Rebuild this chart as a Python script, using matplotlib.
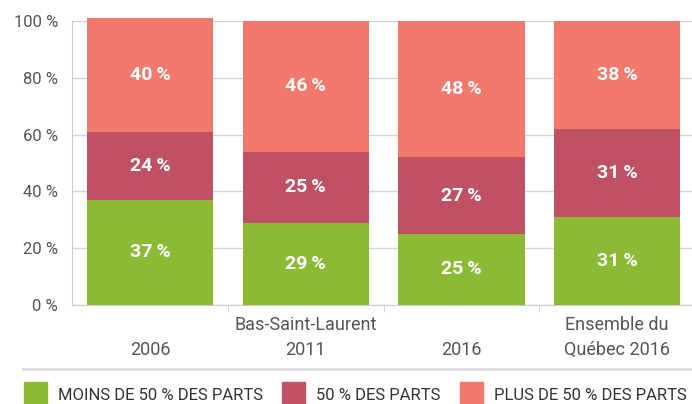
import matplotlib.pyplot as plt
from matplotlib.patches import Rectangle
from matplotlib.lines import Line2D
import numpy as np

categories = ['2006', 'Bas-Saint-Laurent\n2011', '2016', 'Ensemble du\nQuébec 2016']
moins = [37, 29, 25, 31]
egal = [24, 25, 27, 31]
plus = [40, 46, 48, 38]
series_names = ['MOINS DE 50 % DES PARTS', '50 % DES PARTS', 'PLUS DE 50 % DES PARTS']
colors = ['#8bba35', '#c05165', '#f2796b']
yticks = [0, 20, 40, 60, 80, 100]

plt.rcParams['font.family'] = ['Roboto', 'DejaVu Sans']

fig = plt.figure(figsize=(6.92, 4.04), dpi=100)
ax = fig.add_axes([72 / 692, 1 - 305 / 404, 620 / 692, 284 / 404])

x = np.arange(len(categories))
width = 0.81
bottom = np.zeros(len(categories))
for vals, col in zip([moins, egal, plus], colors):
    bars = ax.bar(x, vals, width, bottom=bottom, color=col, zorder=2)
    for b in bars:
        b.set_clip_on(False)
    for xi, b, v in zip(x, bottom, vals):
        ax.text(xi, b + v / 2, f'{v}\u2009%', ha='center', va='center', color='white',
                fontsize=14, fontweight='bold', zorder=3)
    bottom += vals

ax.set_xlim(-0.5, 3.48)
ax.set_ylim(0, 100)
ax.set_yticks(yticks)
ax.set_yticklabels([f'{t} %' for t in yticks], fontsize=12, color='#555555')
ax.yaxis.grid(True, color='#d5d5d5', linewidth=1, zorder=0)
ax.tick_params(axis='y', length=0, pad=10)

ax.set_xticks(x)
ax.set_xticklabels(['\n' + c if '\n' not in c else c for c in categories],
                   fontsize=13, color='#555555', linespacing=1.5)
ax.tick_params(axis='x', length=0, pad=8)
ax.set_xticks([0.5, 1.5, 2.5], minor=True)
ax.tick_params(axis='x', which='minor', length=5, color='#cccccc')

for s in ['top', 'right']:
    ax.spines[s].set_visible(False)
for s in ['left', 'bottom']:
    ax.spines[s].set_color('#cccccc')

# separator line above legend
fig.add_artist(Line2D([23 / 692, 1], [1 - 369 / 404] * 2, color='#dddddd', linewidth=2))

# legend
leg_x = [24, 282, 460]
for px, name, col in zip(leg_x, series_names, colors):
    fig.add_artist(Rectangle((px / 692, 0), 23 / 692, 22 / 404, color=col,
                             transform=fig.transFigure))
    fig.text((px + 34) / 692, 9 / 404, name, fontsize=12, color='#333333',
             va='center', ha='left')

fig.savefig('out.png', dpi=100)
